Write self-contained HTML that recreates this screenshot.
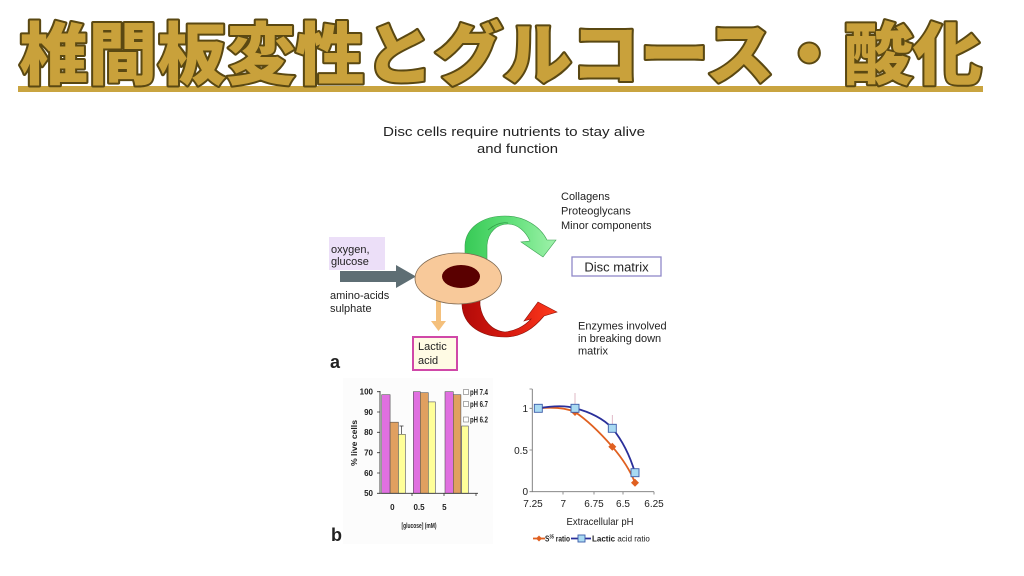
<!DOCTYPE html>
<html>
<head>
<meta charset="utf-8">
<style>
  html,body{margin:0;padding:0;background:#fff;}
  body{width:1024px;height:576px;overflow:hidden;}
  svg{display:block;}
  .t{font-family:"Liberation Sans",Arial,sans-serif;fill:#222;}
</style>
</head>
<body>
<svg width="1024" height="576" viewBox="0 0 1024 576" xmlns="http://www.w3.org/2000/svg">
  <defs>
    <linearGradient id="gGreen" x1="463" y1="0" x2="561" y2="0" gradientUnits="userSpaceOnUse">
      <stop offset="0" stop-color="#36c955"/>
      <stop offset="0.5" stop-color="#62e07a"/>
      <stop offset="1" stop-color="#a6f4b0"/>
    </linearGradient>
    <linearGradient id="gRed" x1="461" y1="0" x2="557" y2="0" gradientUnits="userSpaceOnUse">
      <stop offset="0" stop-color="#b00a08"/>
      <stop offset="0.5" stop-color="#d81a10"/>
      <stop offset="1" stop-color="#ff3a1c"/>
    </linearGradient>
  </defs>

  <!-- ===== Title ===== -->
  <rect x="18" y="86" width="965" height="6" fill="#c9a440"/>
  <text x="19" y="79" font-family="'Noto Sans CJK JP','Noto Sans CJK SC',sans-serif" font-weight="900" font-size="68"
        textLength="963" lengthAdjust="spacingAndGlyphs"
        fill="#c9a13b" stroke="#5a4812" stroke-width="4" stroke-linejoin="round" paint-order="stroke">椎間板変性とグルコース・酸化</text>

  <!-- ===== Panel a ===== -->
  <text class="t" x="383" y="136" font-size="13" textLength="262" lengthAdjust="spacingAndGlyphs">Disc cells require nutrients to stay alive</text>
  <text class="t" x="477" y="153" font-size="13" textLength="81" lengthAdjust="spacingAndGlyphs">and function</text>

  <!-- oxygen box -->
  <rect x="329" y="237" width="56" height="33" fill="#ecdff8"/>
  <text class="t" x="331" y="253" font-size="11">oxygen,</text>
  <text class="t" x="331" y="265" font-size="11">glucose</text>
  <text class="t" x="330" y="299" font-size="11">amino-acids</text>
  <text class="t" x="330" y="312" font-size="11">sulphate</text>

  <!-- gray input arrow -->
  <polygon points="340,271 396,271 396,265 416,276.5 396,288 396,282 340,282" fill="#5e6e74"/>

  <!-- green arrow -->
  <path d="M465,262 L465,245 C466,228 482,216 505,216 C524,216 540,226 547,240 L556,240 L543,257 L521,242 L530,241 C526,232 518,224 508,224 C497,224 488,232 487,245 L487,262 Z"
        fill="url(#gGreen)" stroke="#3aa050" stroke-width="0.6"/>
  <path d="M488,230 C495,224 502,222 508,223" fill="none" stroke="#2f9a45" stroke-width="0.8"/>

  <!-- red arrow -->
  <path d="M462,298 L462,305 C463,326 482,337 505,337 C522,337 534,328 544,316 L557,312 L538,302 L524,321 L531,319 C524,327 514,331 505,332 C492,331 482,320 480,305 L480,298 Z"
        fill="url(#gRed)" stroke="#8a1008" stroke-width="0.6"/>

  <!-- lactic arrow -->
  <rect x="436" y="300" width="5" height="22" fill="#f4c07c"/>
  <polygon points="431,321 446,321 438.5,331" fill="#f4c07c"/>

  <!-- cell -->
  <ellipse cx="458.3" cy="278.5" rx="43.3" ry="25.5" fill="#f8c99a" stroke="#7e6850" stroke-width="0.8"/>
  <ellipse cx="461" cy="276.5" rx="19" ry="11.5" fill="#5a0000"/>

  <!-- lactic acid box -->
  <rect x="413" y="337" width="44" height="33" fill="#fffbe4" stroke="#d048a8" stroke-width="2"/>
  <text class="t" x="418" y="350" font-size="11">Lactic</text>
  <text class="t" x="418" y="364" font-size="11">acid</text>

  <!-- a label -->
  <text class="t" x="330" y="368" font-size="18" font-weight="bold" fill="#111">a</text>

  <!-- right texts -->
  <text class="t" x="561" y="200" font-size="11">Collagens</text>
  <text class="t" x="561" y="214.5" font-size="11">Proteoglycans</text>
  <text class="t" x="561" y="229" font-size="11">Minor components</text>

  <rect x="572" y="257" width="89" height="19" fill="#fff" stroke="#9088c8" stroke-width="1.3"/>
  <text class="t" x="616.5" y="271.5" font-size="13" text-anchor="middle">Disc matrix</text>

  <text class="t" x="578" y="329.5" font-size="11">Enzymes involved</text>
  <text class="t" x="578" y="342" font-size="11">in breaking down</text>
  <text class="t" x="578" y="354.5" font-size="11">matrix</text>

  <!-- ===== Panel b : bar chart ===== -->
  <rect x="343" y="378" width="150" height="166" fill="#fcfcfc"/>
  <!-- bars -->
  <g stroke="#555" stroke-width="0.6">
    <rect x="381.7" y="394.7" width="8.4" height="98.6" fill="#e070e0"/>
    <rect x="390.1" y="422.2" width="8.3" height="71.1" fill="#e0a060"/>
    <rect x="398.4" y="434.4" width="7" height="58.9" fill="#ffff99"/>

    <rect x="413.3" y="391.7" width="7" height="101.6" fill="#e070e0"/>
    <rect x="420.3" y="392.7" width="8" height="100.6" fill="#e0a060"/>
    <rect x="428.3" y="401.9" width="7" height="91.4" fill="#ffff99"/>

    <rect x="445" y="391.7" width="8.3" height="101.6" fill="#e070e0"/>
    <rect x="453.3" y="394.7" width="7.6" height="98.6" fill="#e0a060"/>
    <rect x="461.7" y="426" width="6.6" height="67.3" fill="#ffff99"/>
  </g>
  <!-- error bar -->
  <path d="M401.5,426 L401.5,434 M399.5,426 L403.5,426" stroke="#333" stroke-width="0.7"/>
  <!-- axes -->
  <path d="M380,391 L380,493.3 L478,493.3" fill="none" stroke="#333" stroke-width="0.9"/>
  <g stroke="#333" stroke-width="0.8">
    <path d="M377,391.7 H380 M377,412 H380 M377,432.3 H380 M377,452.7 H380 M377,473 H380 M377,493.3 H380"/>
    <path d="M412,493.3 V496 M444,493.3 V496 M476,493.3 V496"/>
  </g>
  <g class="t" font-size="8" font-weight="bold" text-anchor="end" fill="#333">
    <text x="373" y="394.5">100</text>
    <text x="373" y="415">90</text>
    <text x="373" y="435">80</text>
    <text x="373" y="455.5">70</text>
    <text x="373" y="476">60</text>
    <text x="373" y="496">50</text>
  </g>
  <g class="t" font-size="8" font-weight="bold" text-anchor="middle" fill="#333">
    <text x="392.3" y="510">0</text>
    <text x="419" y="510">0.5</text>
    <text x="444.3" y="510">5</text>
  </g>
  <text class="t" x="419" y="528" font-size="7.5" font-weight="bold" text-anchor="middle" fill="#333" textLength="35" lengthAdjust="spacingAndGlyphs">[glucose] (mM)</text>
  <text class="t" transform="translate(357,443) rotate(-90)" font-size="8" font-weight="bold" text-anchor="middle" fill="#333" textLength="46" lengthAdjust="spacingAndGlyphs">% live cells</text>
  <!-- legend -->
  <g stroke="#777" stroke-width="0.6" fill="#fff">
    <rect x="463.5" y="389.5" width="5" height="5"/>
    <rect x="463.5" y="401.5" width="5" height="5"/>
    <rect x="463.5" y="417" width="5" height="5"/>
  </g>
  <g class="t" font-size="8" font-weight="bold" fill="#333">
    <text x="470" y="395" textLength="18" lengthAdjust="spacingAndGlyphs">pH 7.4</text>
    <text x="470" y="407" textLength="18" lengthAdjust="spacingAndGlyphs">pH 6.7</text>
    <text x="470" y="422.5" textLength="18" lengthAdjust="spacingAndGlyphs">pH 6.2</text>
  </g>

  <!-- b label -->
  <text class="t" x="331" y="541" font-size="18" font-weight="bold" fill="#111">b</text>

  <!-- ===== Panel b : line chart ===== -->
  <path d="M532.3,389 L532.3,491.7 L654,491.7" fill="none" stroke="#777" stroke-width="0.9"/>
  <g stroke="#777" stroke-width="0.8">
    <path d="M529.5,408.3 H532.3 M529.5,450 H532.3 M529.5,491.7 H532.3 M529.5,389 H532.3"/>
    <path d="M563,491.7 V494.5 M594,491.7 V494.5 M623,491.7 V494.5 M654,491.7 V494.5"/>
  </g>
  <g class="t" font-size="10" fill="#333" text-anchor="end">
    <text x="528" y="412">1</text>
    <text x="528" y="454">0.5</text>
    <text x="528" y="495">0</text>
  </g>
  <g class="t" font-size="10" fill="#333" text-anchor="middle">
    <text x="533" y="507">7.25</text>
    <text x="563.3" y="507">7</text>
    <text x="594" y="507">6.75</text>
    <text x="623" y="507">6.5</text>
    <text x="654" y="507">6.25</text>
  </g>
  <text class="t" x="600" y="525" font-size="10" fill="#555" text-anchor="middle" textLength="67" lengthAdjust="spacingAndGlyphs">Extracellular pH</text>

  <!-- error bars -->
  <path d="M575,393 V408 M612.3,415 V428" stroke="#d8a8b8" stroke-width="0.8"/>
  <!-- S35 line -->
  <path d="M538.3,408.3 C552,407 566,408 575,412 C590,422 603,436 612.3,446.7 C622,458 630,470 635,482.7" fill="none" stroke="#e06020" stroke-width="1.8"/>
  <!-- lactic line -->
  <path d="M538.3,408.3 C552,406 565,405 575,408.3 C590,412 604,419 612.3,428.3 C622,440 630,456 635,472.7" fill="none" stroke="#2a2f9a" stroke-width="1.8"/>
  <!-- diamonds -->
  <g fill="#e06020">
    <polygon points="575,408 579,412 575,416 571,412"/>
    <polygon points="612.3,442.7 616.3,446.7 612.3,450.7 608.3,446.7"/>
    <polygon points="635,478.7 639,482.7 635,486.7 631,482.7"/>
  </g>
  <!-- squares -->
  <g fill="#a9daf2" stroke="#3a5aa8" stroke-width="0.9">
    <rect x="534.3" y="404.3" width="8" height="8"/>
    <rect x="571" y="404.3" width="8" height="8"/>
    <rect x="608.3" y="424.3" width="8" height="8"/>
    <rect x="631" y="468.7" width="8" height="8"/>
  </g>
  <!-- legend -->
  <path d="M533,538.5 H545" stroke="#e06020" stroke-width="1.8"/>
  <polygon points="539,535.5 542,538.5 539,541.5 536,538.5" fill="#e06020"/>
  <text class="t" x="545" y="541.5" font-size="8" font-weight="bold" fill="#333" textLength="25" lengthAdjust="spacingAndGlyphs">S<tspan font-size="5" dy="-3">35</tspan><tspan dy="3"> ratio</tspan></text>
  <path d="M571,538.5 H591" stroke="#2a2f9a" stroke-width="1.8"/>
  <rect x="578" y="535" width="7" height="7" fill="#a9daf2" stroke="#3a5aa8" stroke-width="0.9"/>
  <text class="t" x="592" y="541.5" font-size="8" fill="#333"><tspan font-weight="bold">Lactic</tspan> acid ratio</text>
</svg>
</body>
</html>
